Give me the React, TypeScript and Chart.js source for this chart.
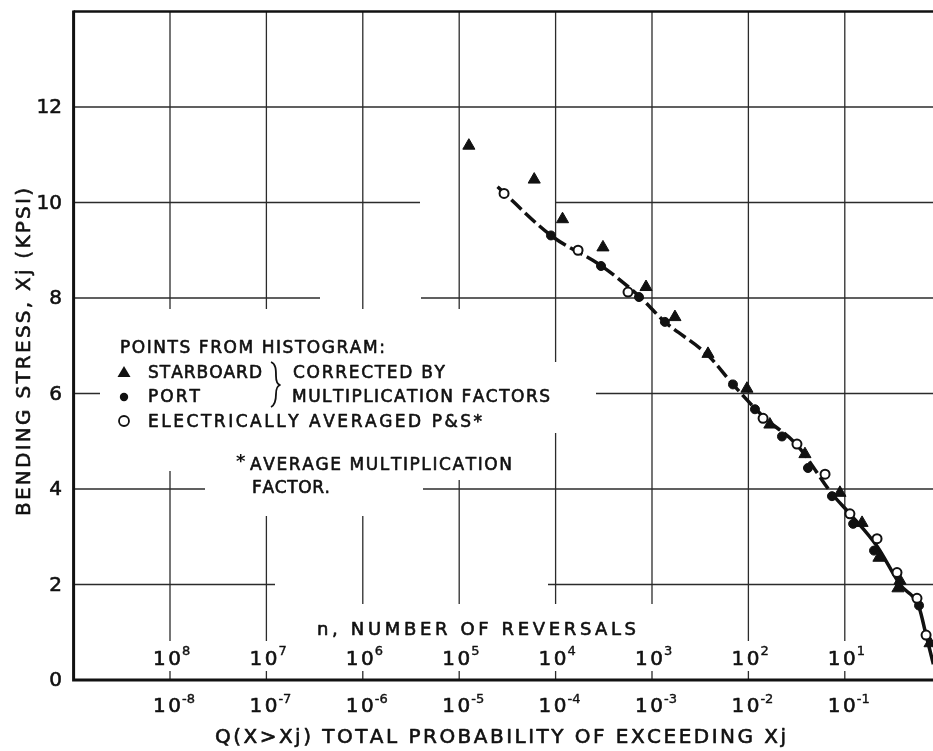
import React, { useEffect, useRef } from "react";
import { Chart, registerables } from "chart.js";

Chart.register(...registerables);

// ---------------- data (Q = probability of exceeding, stress in KPSI) ----------------
const STARBOARD_Q = [1.26e-5, 6.0e-5, 1.18e-4, 3.1e-4, 8.67e-4, 1.73e-3, 3.81e-3, 9.66e-3, 1.67e-2, 3.86e-2, 8.91e-2, 0.151, 0.226, 0.374, 0.356, 0.766];
const STARBOARD_STRESS = [11.19, 10.48, 9.65, 9.06, 8.23, 7.6, 6.83, 6.1, 5.35, 4.73, 3.92, 3.29, 2.56, 2.08, 1.92, 0.77];

const PORT_Q = [8.95e-5, 2.96e-4, 7.33e-4, 1.36e-3, 6.92e-3, 1.17e-2, 2.23e-2, 4.15e-2, 7.36e-2, 0.122, 0.201, 0.589];
const PORT_STRESS = [9.31, 8.67, 8.02, 7.5, 6.19, 5.67, 5.1, 4.44, 3.85, 3.27, 2.71, 1.56];

const AVG_Q = [2.92e-5, 1.71e-4, 5.64e-4, 1.42e-2, 3.19e-2, 6.24e-2, 0.113, 0.216, 0.348, 0.561, 0.697];
const AVG_STRESS = [10.19, 9.0, 8.125, 5.48, 4.94, 4.31, 3.48, 2.96, 2.25, 1.71, 0.94];

const FIT_Q = [2.5e-5, 8.95e-5, 3.0e-4, 7.33e-4, 1.36e-3, 3.81e-3, 6.92e-3, 1.42e-2, 3.19e-2, 7.36e-2, 0.113, 0.216, 0.374, 0.589, 0.697, 0.83];
const FIT_STRESS = [10.33, 9.31, 8.67, 8.04, 7.5, 6.8, 6.19, 5.52, 4.92, 3.9, 3.48, 2.8, 2.0, 1.52, 0.94, 0.33];

const Y_GRID = [2, 4, 6, 8, 10, 12];
const Y_TICK_VALUES = [0, 2, 4, 6, 8, 10, 12];
const Y_TICK_LABELS = ["0", "2", "4", "6", "8", "10", "12"];
const Q_DECADES = [1e-8, 1e-7, 1e-6, 1e-5, 1e-4, 1e-3, 1e-2, 1e-1];
const Q_TICK_EXPONENTS = ["-8", "-7", "-6", "-5", "-4", "-3", "-2", "-1"];
const N_TICK_EXPONENTS = ["8", "7", "6", "5", "4", "3", "2", "1"];
const X_MIN = 1e-9;
const X_MAX = Math.pow(10, -0.085);
const Y_MIN = 0;
const Y_MAX = 14;

const TITLE_X = "Q(X>Xj) TOTAL PROBABILITY OF EXCEEDING Xj";
const TITLE_Y = "BENDING STRESS, Xj (KPSI)";
const TITLE_N = "n, NUMBER OF REVERSALS";
const LEGEND_HEAD = "POINTS FROM HISTOGRAM:";
const LEGEND_STAR = "STARBOARD";
const LEGEND_PORT = "PORT";
const LEGEND_AVG = "ELECTRICALLY AVERAGED P&S*";
const LEGEND_CORR1 = "CORRECTED BY";
const LEGEND_CORR2 = "MULTIPLICATION FACTORS";
const NOTE1 = "AVERAGE MULTIPLICATION";
const NOTE2 = "FACTOR.";

const FF = "'DejaVu Sans', 'Liberation Sans', sans-serif";
const INK = "#111";

function pts(xs: number[], ys: number[]) {
  return xs.map((x, i) => ({ x, y: ys[i] }));
}

function fitText(ctx: CanvasRenderingContext2D, text: string, left: number, right: number, baseline: number, font: string, bold = 0.6) {
  ctx.font = font;
  ctx.textAlign = "left";
  ctx.textBaseline = "alphabetic";
  ctx.lineWidth = bold;
  ctx.strokeStyle = INK;
  ctx.lineJoin = "round";
  const chars = [...text];
  const ws = chars.map((c) => ctx.measureText(c).width);
  const nat = ws.reduce((s, w) => s + w, 0);
  const sp = chars.length > 1 ? (right - left - nat) / (chars.length - 1) : 0;
  let x = left;
  chars.forEach((c, i) => {
    ctx.fillText(c, x, baseline);
    if (bold > 0 && c !== " ") ctx.strokeText(c, x, baseline);
    x += ws[i] + sp;
  });
}

function drawPow(ctx: CanvasRenderingContext2D, gx: number, baseline: number, exp: string, raise: number) {
  fitText(ctx, "10", gx - 17, gx + 11, baseline, `20px ${FF}`, 0.6);
  ctx.font = `13px ${FF}`;
  ctx.textAlign = "left";
  ctx.lineWidth = 0.4;
  ctx.fillText(exp, gx + 12, baseline - raise);
  ctx.strokeText(exp, gx + 12, baseline - raise);
}

const paperPlugin = {
  id: "paper",
  beforeDatasetsDraw(chart: any) {
    const { ctx, chartArea: a, scales } = chart;
    const xs = scales.x;
    const ys = scales.y;
    ctx.save();

    // horizontal grid
    ctx.strokeStyle = "#2b2b2b";
    ctx.lineWidth = 1.3;
    for (const v of Y_GRID) {
      const y = ys.getPixelForValue(v);
      ctx.beginPath();
      ctx.moveTo(a.left, y);
      ctx.lineTo(a.right, y);
      ctx.stroke();
    }
    // faded parts of the old paper grid
    ctx.fillStyle = "#fff";
    const fadeY10 = ys.getPixelForValue(10);
    const fadeY8 = ys.getPixelForValue(8);
    const fadeY2 = ys.getPixelForValue(2);
    ctx.fillRect(420, fadeY10 - 3, 136, 6);
    ctx.fillRect(320, fadeY8 - 3, 101, 6);
    ctx.fillRect(275, fadeY2 - 3, 273, 6);

    // vertical grid
    ctx.strokeStyle = "#2b2b2b";
    ctx.lineWidth = 1.3;
    for (const q of Q_DECADES) {
      const x = xs.getPixelForValue(q);
      ctx.beginPath();
      ctx.moveTo(x, a.top);
      ctx.lineTo(x, a.bottom);
      ctx.stroke();
    }

    // white areas behind the lettering
    ctx.fillStyle = "#fff";
    const masks: [number, number, number, number][] = [
      [100, 309, 370, 124],
      [470, 362, 126, 71],
      [100, 433, 110, 38],
      [210, 433, 310, 47],
      [205, 480, 218, 36],
      [305, 604, 358, 38],
    ];
    for (const m of masks) ctx.fillRect(m[0], m[1], m[2], m[3]);
    for (const q of Q_DECADES) {
      const x = xs.getPixelForValue(q);
      ctx.fillRect(x - 22, 641, 48, 30);
    }

    // frame
    ctx.strokeStyle = INK;
    ctx.lineWidth = 3;
    ctx.beginPath();
    ctx.moveTo(a.left, a.top - 1);
    ctx.lineTo(a.left, a.bottom + 1.5);
    ctx.moveTo(a.left - 1.5, a.bottom);
    ctx.lineTo(a.right, a.bottom);
    ctx.stroke();
    ctx.lineWidth = 2.5;
    ctx.beginPath();
    ctx.moveTo(a.left, a.top);
    ctx.lineTo(a.right, a.top);
    ctx.stroke();

    ctx.fillStyle = INK;
    // y tick labels
    ctx.font = `20px ${FF}`;
    ctx.textAlign = "right";
    ctx.textBaseline = "middle";
    ctx.lineWidth = 0.6;
    Y_TICK_VALUES.forEach((v, i) => {
      const y = ys.getPixelForValue(v) + 1;
      ctx.fillText(Y_TICK_LABELS[i], 62, y);
      ctx.strokeText(Y_TICK_LABELS[i], 62, y);
    });

    // x tick labels (probability) and reversal counts
    Q_DECADES.forEach((q, i) => {
      const x = xs.getPixelForValue(q);
      drawPow(ctx, x, 712, Q_TICK_EXPONENTS[i], 9);
      drawPow(ctx, x, 665, N_TICK_EXPONENTS[i], 10);
    });

    // titles
    fitText(ctx, TITLE_N, 317, 636, 635, `18px ${FF}`);
    fitText(ctx, TITLE_X, 215, 786, 743, `20px ${FF}`);
    ctx.save();
    ctx.translate(22, 352);
    ctx.rotate(-Math.PI / 2);
    fitText(ctx, TITLE_Y, -164, 164, 7.5, `20px ${FF}`);
    ctx.restore();

    // legend block
    const lf = `17px ${FF}`;
    fitText(ctx, LEGEND_HEAD, 120, 385, 353, lf);
    fitText(ctx, LEGEND_STAR, 148, 262, 378, lf);
    fitText(ctx, LEGEND_CORR1, 293, 445, 378, lf);
    fitText(ctx, LEGEND_PORT, 148, 200, 402, lf);
    fitText(ctx, LEGEND_CORR2, 292, 550, 402, lf);
    fitText(ctx, LEGEND_AVG, 148, 482, 427, lf);
    fitText(ctx, NOTE1, 250, 512, 470, lf);
    fitText(ctx, NOTE2, 252, 330, 493, lf);
    ctx.font = `bold 18px ${FF}`;
    ctx.textAlign = "left";
    ctx.textBaseline = "alphabetic";
    ctx.fillText("*", 236, 467);

    // legend symbols
    ctx.beginPath();
    ctx.moveTo(124, 366);
    ctx.lineTo(130.5, 377);
    ctx.lineTo(117.5, 377);
    ctx.closePath();
    ctx.fill();
    ctx.beginPath();
    ctx.arc(124, 397, 4.2, 0, Math.PI * 2);
    ctx.fill();
    ctx.lineWidth = 1.8;
    ctx.strokeStyle = INK;
    ctx.beginPath();
    ctx.arc(124, 421, 5, 0, Math.PI * 2);
    ctx.stroke();

    // brace
    ctx.lineWidth = 1.8;
    ctx.beginPath();
    ctx.moveTo(271, 362);
    ctx.bezierCurveTo(276, 364, 276, 370, 276, 376);
    ctx.bezierCurveTo(276, 381, 277, 384, 280, 385);
    ctx.bezierCurveTo(277, 386, 276, 389, 276, 394);
    ctx.bezierCurveTo(276, 401, 275, 405, 271, 407);
    ctx.stroke();

    ctx.restore();
  },
};

export default function App() {
  const ref = useRef<HTMLCanvasElement>(null);
  useEffect(() => {
    const chart = new Chart(ref.current as HTMLCanvasElement, {
      type: "scatter",
      data: {
        datasets: [
          {
            label: "fit",
            data: pts(FIT_Q, FIT_STRESS),
            showLine: true,
            borderColor: INK,
            borderWidth: 3.5,
            pointRadius: 0,
            cubicInterpolationMode: "monotone",
            order: 10,
            segment: {
              borderDash: (c: any) => (c.p0.parsed.y > 4.5 ? [14, 5] : undefined),
            },
          } as any,
          {
            label: "starboard",
            data: pts(STARBOARD_Q, STARBOARD_STRESS),
            pointStyle: "triangle",
            pointRadius: 7,
            backgroundColor: INK,
            borderColor: INK,
            borderWidth: 1,
            order: 3,
          },
          {
            label: "port",
            data: pts(PORT_Q, PORT_STRESS),
            pointStyle: "circle",
            pointRadius: 4.5,
            backgroundColor: INK,
            borderColor: INK,
            borderWidth: 1,
            order: 2,
          },
          {
            label: "averaged",
            data: pts(AVG_Q, AVG_STRESS),
            pointStyle: "circle",
            pointRadius: 4.5,
            backgroundColor: "#fff",
            borderColor: INK,
            borderWidth: 2,
            order: 1,
          },
        ],
      },
      options: {
        responsive: false,
        animation: false,
        devicePixelRatio: 1,
        layout: { autoPadding: false, padding: { left: 73.6, right: 0, top: 11.5, bottom: 71 } },
        plugins: { legend: { display: false }, tooltip: { enabled: false } },
        scales: {
          x: { type: "logarithmic", min: X_MIN, max: X_MAX, display: false },
          y: { type: "linear", min: Y_MIN, max: Y_MAX, display: false },
        },
      },
      plugins: [paperPlugin as any],
    });
    return () => chart.destroy();
  }, []);
  return (
    <div style={{ position: "fixed", left: 0, top: 0, width: 933, height: 751, background: "#fff" }}>
      <canvas ref={ref} width={933} height={751} style={{ display: "block", width: 933, height: 751 }} />
    </div>
  );
}
